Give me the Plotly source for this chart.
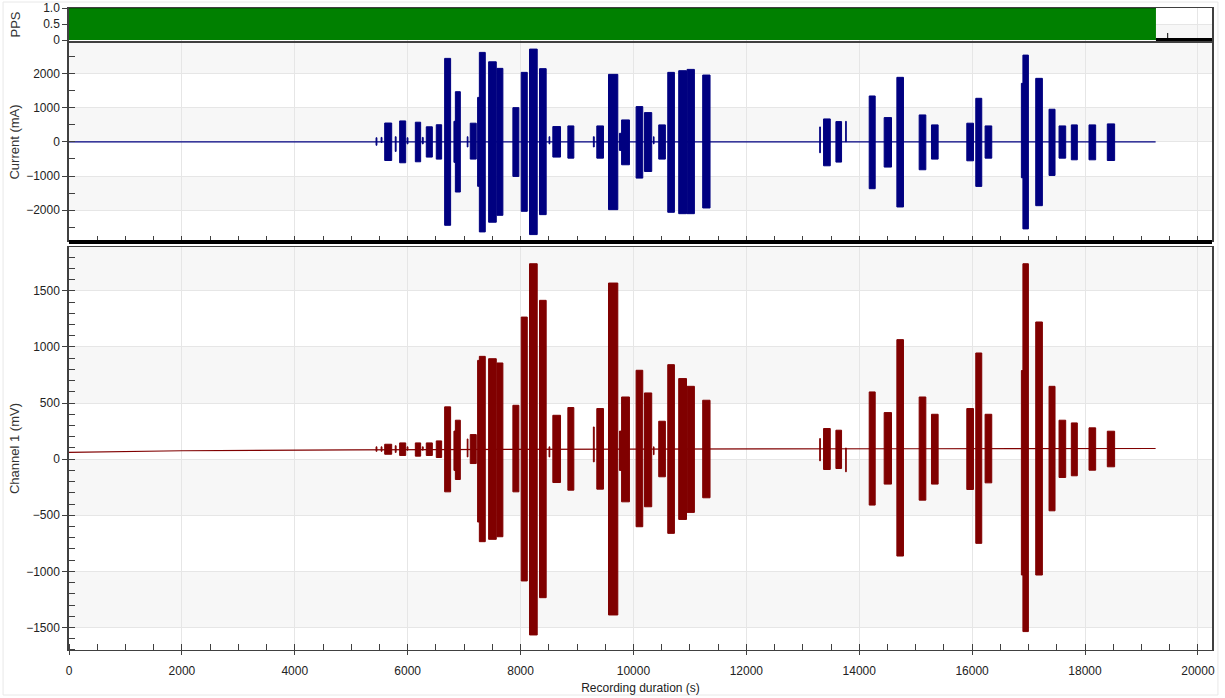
import plotly.graph_objects as go

# ---------------- data ----------------
# burst segments (s): start, end ; current (mA) hi/lo ; channel 1 (mV) hi/lo
burst_start = [5440, 5530, 5593, 5780, 5858, 5990, 6136, 6260, 6330, 6507,
               6655, 6820, 6845, 7055, 7109, 7239, 7270, 7434, 7581, 7864,
               8012, 8159, 8336, 8505, 8572, 8838, 9290, 9351, 9558, 9752,
               9790, 10047, 10195, 10355, 10448, 10608, 10802, 10950, 11227,
               13300, 13368, 13587, 13760, 14177, 14442, 14667, 15062, 15280,
               15906, 16065, 16230, 16873, 16900, 17127, 17363, 17540, 17758,
               18071, 18395]
burst_end = [5455, 5545, 5717, 5795, 5965, 6005, 6230, 6275, 6437, 6602,
             6761, 6845, 6933, 7068, 7215, 7270, 7375, 7570, 7687, 7970,
             8119, 8295, 8454, 8518, 8708, 8944, 9305, 9469, 9723, 9790,
             9929, 10165, 10324, 10365, 10566, 10726, 10940, 11080, 11357,
             13312, 13487, 13687, 13770, 14283, 14572, 14784, 15180, 15398,
             16024, 16171, 16348, 16900, 16997, 17245, 17469, 17658, 17864,
             18189, 18525]
cur_hi = [120, 130, 550, 150, 612, 120, 574, 130, 440, 500,
          2440, 600, 1466, 150, 545, 1300, 2615, 2340, 2148, 1000,
          2031, 2711, 2140, 150, 447, 466, 150, 466, 1973, 250,
          641, 1030, 855, 150, 496, 2031, 2080, 2118, 1953,
          437, 670, 592, 600, 1341, 709, 1886, 787, 496,
          545, 1273, 466, 1710, 2536, 1856, 953, 466, 496,
          496, 525]
cur_lo = [-100, -20, -545, -280, -612, -60, -583, -60, -446, -505,
          -2440, -600, -1467, -150, -505, -1300, -2633, -2350, -2148, -1011,
          -2031, -2711, -2128, -60, -446, -476, -150, -476, -1982, -250,
          -670, -1060, -866, -60, -505, -2060, -2100, -2100, -1933,
          -320, -700, -592, 0, -1370, -738, -1904, -816, -505,
          -554, -1302, -476, -1050, -2545, -1866, -982, -476, -525,
          -525, -545]
ch_hi = [110, 110, 133, 120, 145, 110, 145, 110, 145, 163,
         466, 250, 347, 180, 219, 880, 916, 895, 857, 480,
         1266, 1741, 1415, 110, 391, 460, 287, 451, 1569, 250,
         554, 792, 590, 110, 338, 842, 718, 649, 525,
         184, 273, 258, 100, 599, 415, 1065, 554, 400,
         451, 946, 400, 790, 1741, 1222, 649, 347, 323,
         279, 249]
ch_lo = [70, 70, 44, 60, 33, 80, 27, 80, 33, 15,
         -291, -100, -181, 20, -39, -560, -735, -714, -691, -291,
         -1085, -1566, -1234, 20, -208, -276, -24, -267, -1388, -100,
         -380, -602, -424, 40, -157, -661, -537, -474, -344,
         -15, -92, -83, -113, -409, -222, -863, -365, -222,
         -270, -750, -211, -1032, -1536, -1032, -460, -163, -148,
         -98, -68]

ch_base_t = [0, 1000, 2000, 5000, 6500, 10000, 15000, 19251]
ch_base_v = [60, 68, 75, 83, 86, 90, 93, 95]
cur_base_t = [0, 19251]
cur_base_v = [0, 0]
pps_t = [0, 19257]
pps_v = [1, 1]
pps_post_t = [19257, 20250]
pps_post_v = [0, 0]
pps_spike_t = [19465, 19465]
pps_spike_v = [0, 0.22]

X_MAX = 20250
PPS_RANGE = [-0.03, 1.0]
CUR_RANGE = [-2900, 2890]
CH_RANGE = [-1700, 1890]

NAVY = "#000080"
MAROON = "#800000"
GREEN = "#008000"
BAND = "#f7f7f7"
GRID = "#e6e6e6"
AX = "#404040"
FONT = "Arial, Liberation Sans, sans-serif"


def polys(hi, lo):
    xs, ys = [], []
    for s, e, h, l in zip(burst_start, burst_end, hi, lo):
        xs += [s, e, e, s, s, None]
        ys += [h, h, l, l, h, None]
    return xs, ys


fig = go.Figure()

# PPS
fig.add_trace(go.Scatter(x=pps_t, y=pps_v, fill="tozeroy", fillcolor=GREEN,
                         line=dict(color="#0b3d0b", width=1), mode="lines",
                         xaxis="x", yaxis="y", showlegend=False))
fig.add_trace(go.Scatter(x=pps_post_t, y=pps_post_v, mode="lines",
                         line=dict(color="black", width=4), xaxis="x", yaxis="y",
                         showlegend=False))
fig.add_trace(go.Scatter(x=pps_spike_t, y=pps_spike_v, mode="lines",
                         line=dict(color="black", width=1), xaxis="x", yaxis="y",
                         showlegend=False))

# Current
fig.add_trace(go.Scatter(x=cur_base_t, y=cur_base_v, mode="lines",
                         line=dict(color=NAVY, width=1.2), xaxis="x2", yaxis="y2",
                         showlegend=False))
cx, cy = polys(cur_hi, cur_lo)
fig.add_trace(go.Scatter(x=cx, y=cy, mode="lines", fill="toself", fillcolor=NAVY,
                         line=dict(color=NAVY, width=1), xaxis="x2", yaxis="y2",
                         showlegend=False))

# Channel 1
fig.add_trace(go.Scatter(x=ch_base_t, y=ch_base_v, mode="lines",
                         line=dict(color=MAROON, width=1.2), xaxis="x3", yaxis="y3",
                         showlegend=False))
hx, hy = polys(ch_hi, ch_lo)
fig.add_trace(go.Scatter(x=hx, y=hy, mode="lines", fill="toself", fillcolor=MAROON,
                         line=dict(color=MAROON, width=1), xaxis="x3", yaxis="y3",
                         showlegend=False))

tickfont = dict(family=FONT, size=12, color="#222")
titlefont = dict(family=FONT, size=13, color="#333")

xcommon = dict(range=[0, X_MAX], dtick=2000, tickformat="d", showgrid=True,
               gridcolor=GRID, showline=True, linecolor=AX, linewidth=1, mirror=True,
               zeroline=False, tickfont=tickfont, automargin=False)

shapes = []


def bands(yref, edges):
    for a, b in edges:
        shapes.append(dict(type="rect", xref="paper", x0=0, x1=1, yref=yref,
                           y0=a, y1=b, fillcolor=BAND, line=dict(width=0),
                           layer="below"))


bands("y", [(0, 0.5)])
bands("y2", [(-2000, -1000), (0, 1000), (2000, 3000)])
bands("y3", [(-1500, -1000), (-500, 0), (500, 1000), (1500, 2000)])

# thick separator between current and channel panels
shapes.append(dict(type="line", xref="paper", x0=0, x1=1, yref="paper",
                   y0=0.6355, y1=0.6355, line=dict(color="black", width=4)))
# faint outer frame
shapes.append(dict(type="rect", xref="paper", yref="paper", x0=-0.0577, x1=1.0052,
                   y0=-0.0701, y1=1.0093, line=dict(color="#e8e8e8", width=1),
                   layer="below"))

ycommon = dict(showgrid=True, gridcolor=GRID, showline=True, linecolor=AX,
               linewidth=1.5, mirror=True, zeroline=False, ticks="outside",
               ticklen=5, tickcolor=AX, tickfont=tickfont, automargin=False)

fig.update_layout(
    width=1225, height=698,
    margin=dict(l=69, r=13, t=8, b=48),
    paper_bgcolor="white", plot_bgcolor="white",
    font=dict(family=FONT, size=12, color="#222"),
    shapes=shapes,
    xaxis=dict(xcommon, anchor="y", matches="x3", showticklabels=False, ticks=""),
    xaxis2=dict(xcommon, anchor="y2", matches="x3", showticklabels=False,
                ticks="inside", ticklen=5, tickcolor=AX,
                minor=dict(dtick=500, ticks="inside", ticklen=5, tickcolor=AX, showgrid=False)),
    xaxis3=dict(xcommon, anchor="y3", ticks="outside", ticklen=4, tickcolor=AX,
                ticklabelstandoff=6,
                minor=dict(dtick=500, ticks="inside", ticklen=6, tickcolor=AX, showgrid=False),
                title=dict(text="Recording duration (s)",
                           font=dict(family=FONT, size=12, color="#222"), standoff=6)),
    yaxis=dict(ycommon, domain=[0.9486, 1.0], range=PPS_RANGE, tickvals=[0, 0.5, 1.0],
               ticktext=["0", "0.5", "1.0"],
               title=dict(text="PPS", font=titlefont, standoff=20)),
    yaxis2=dict(ycommon, domain=[0.637, 0.9455], range=CUR_RANGE, dtick=1000,
                minor=dict(dtick=500, ticks="inside", ticklen=6, tickcolor=AX, showgrid=False),
                title=dict(text="Current (mA)", font=titlefont, standoff=4)),
    yaxis3=dict(ycommon, domain=[0, 0.6277], range=CH_RANGE, dtick=500,
                minor=dict(dtick=100, ticks="inside", ticklen=6, tickcolor=AX, showgrid=False),
                title=dict(text="Channel 1 (mV)", font=titlefont, standoff=4)),
)

fig.write_html("out.html")
